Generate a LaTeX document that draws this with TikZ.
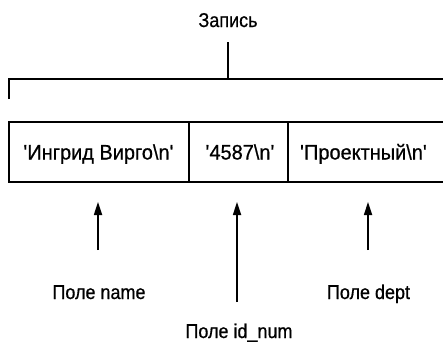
\documentclass[tikz,border=0pt]{standalone}
\usepackage{fontspec}
\setmainfont{Liberation Sans}
\newfontfamily\labelfont[FakeStretch=0.9,FakeBold=0.6]{Liberation Sans}
\newfontfamily\cellfont[FakeStretch=0.95,FakeBold=0.6]{Liberation Sans}
\usetikzlibrary{arrows.meta}
\tikzset{
  line/.style={line width=1.7pt, black},
  celltext/.style={inner sep=0pt, anchor=base, font=\cellfont\fontsize{21}{24}\selectfont},
  labeltext/.style={inner sep=0pt, anchor=base, font=\labelfont\fontsize{20}{22}\selectfont},
  uparrow/.style={line width=1.7pt, -{Triangle[length=13pt,width=8pt]}}
}
\begin{document}
\begin{tikzpicture}[x=1pt,y=-1pt]
\useasboundingbox (0,0) rectangle (443,341);
% title and bracket
\node[labeltext] (rec) at (228,27) {Запись};
\coordinate (stemtop) at (228,42);
\coordinate (stembot) at (228,79);
\coordinate (brl) at (9,79);
\coordinate (brr) at (443,79);
\coordinate (brtick) at (9,99);
\draw[line] (stemtop) -- (stembot);
\draw[line] (brtick) -- (brl) -- (brr);
% record box
\coordinate (tl) at (9,122);
\coordinate (bl) at (9,182);
\coordinate (tr) at (443,122);
\coordinate (br) at (443,182);
\coordinate (d1t) at (189,122);
\coordinate (d1b) at (189,182);
\coordinate (d2t) at (288,122);
\coordinate (d2b) at (288,182);
\draw[line] (tr) -- (tl) -- (bl) -- (br);
\draw[line] (d1t) -- (d1b);
\draw[line] (d2t) -- (d2b);
\node[celltext] (cname) at (98.5,159.5) {\textquotesingle Ингрид Вирго\textbackslash n\textquotesingle};
\node[celltext] (cid) at (240,159.5) {\textquotesingle 4587\textbackslash n\textquotesingle};
\node[celltext] (cdept) at (363.5,159.5) {\textquotesingle Проектный\textbackslash n\textquotesingle};
% labels
\node[labeltext] (lname) at (99,299) {Поле name};
\node[labeltext] (ldept) at (368.5,299) {Поле dept};
\node[labeltext] (lid) at (239,338) {Поле id\_num};
% arrows
\coordinate (a1s) at (98,250);
\coordinate (a1e) at (98,202);
\coordinate (a2s) at (237,302);
\coordinate (a2e) at (237,202);
\coordinate (a3s) at (368,250);
\coordinate (a3e) at (368,202);
\draw[uparrow] (a1s) -- (a1e);
\draw[uparrow] (a2s) -- (a2e);
\draw[uparrow] (a3s) -- (a3e);
\end{tikzpicture}
\end{document}
